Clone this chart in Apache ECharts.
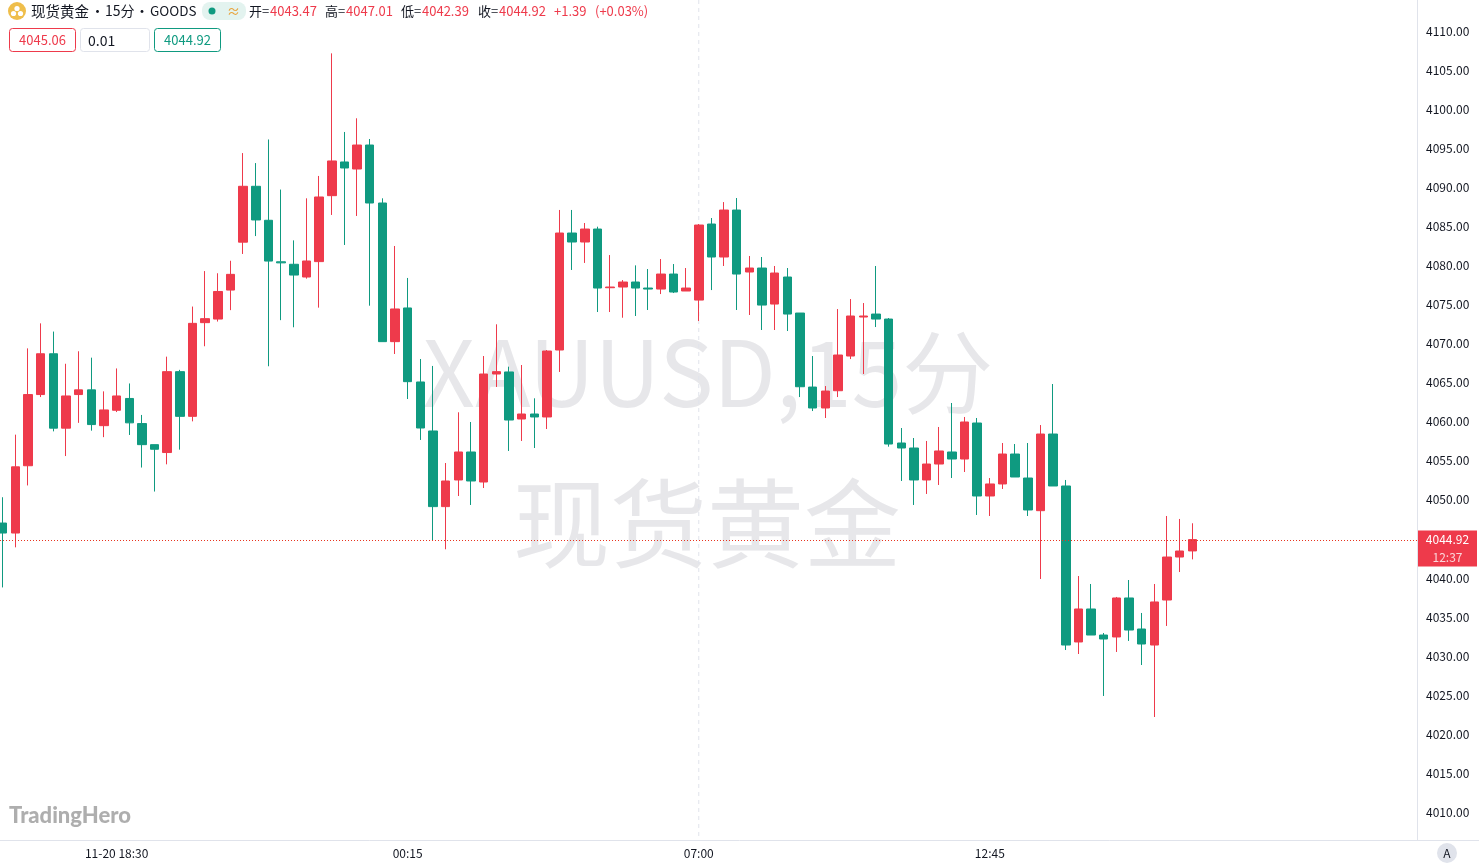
<!DOCTYPE html>
<html><head><meta charset="utf-8">
<style>html,body{margin:0;padding:0;background:#fff;overflow:hidden}#c{width:1479px;height:863px}</style>
<script src="https://cdn.jsdelivr.net/npm/echarts@6/dist/echarts.min.js"></script>
</head><body><div id="c"></div>
<script>
const categories = ['16:15','16:30','16:45','17:00','17:15','17:30','17:45','18:00','18:15','11-20 18:30','18:45','19:00','19:15','19:30','19:45','20:00','20:15','20:30','20:45','21:00','21:15','21:30','21:45','22:00','22:15','22:30','22:45','23:00','23:15','23:30','23:45','00:00','00:15','00:30','00:45','01:00','01:15','01:30','01:45','02:00','02:15','02:30','02:45','03:00','03:15','03:30','03:45','04:00','04:15','04:30','04:45','05:00','05:15','05:30','05:45','07:00','07:15','07:30','07:45','08:00','08:15','08:30','08:45','09:00','09:15','09:30','09:45','10:00','10:15','10:30','10:45','11:00','11:15','11:30','11:45','12:00','12:15','12:30','12:45','13:00','13:15','13:30','13:45','14:00','14:15','14:30','14:45','15:00','15:15','15:30','15:45','16:00','16:15 ','16:30 ','16:45 ','17:00 ','17:15 ','17:30 ','17:45 ','18:00 ','18:15 ','18:30 ','18:45 ','19:00 ','19:15 ','19:30 ','19:45 ','20:00 ','20:15 ','20:30 ','20:45 ','21:00 '];
const tickLabels = ['11-20 18:30','00:15','07:00','12:45'];
const opens = [4047.04,4045.76,4054.37,4063.48,4068.70,4059.18,4063.48,4064.08,4059.50,4061.47,4062.98,4059.77,4057.07,4056.06,4066.41,4060.69,4072.68,4073.14,4076.85,4082.98,4090.13,4085.78,4080.47,4080.15,4078.52,4080.49,4088.93,4093.24,4092.34,4095.41,4087.99,4070.25,4074.56,4065.09,4058.82,4049.14,4052.55,4056.13,4052.29,4066.11,4066.37,4060.35,4060.99,4060.61,4069.18,4084.15,4083.00,4084.66,4077.15,4077.24,4077.88,4077.11,4076.98,4078.90,4076.73,4075.57,4085.30,4081.08,4087.09,4079.16,4079.67,4075.06,4078.52,4073.91,4064.44,4061.76,4063.97,4068.41,4073.40,4073.78,4073.14,4057.28,4056.64,4052.55,4054.59,4056.13,4055.23,4059.84,4050.50,4052.04,4055.87,4052.80,4048.62,4058.43,4051.78,4031.82,4036.04,4032.71,4032.46,4037.45,4033.48,4031.43,4037.19,4042.69,4043.47];
const closes = [4045.76,4054.23,4063.48,4068.70,4059.18,4063.30,4064.08,4059.64,4061.51,4063.30,4059.86,4057.07,4056.48,4066.41,4060.69,4072.59,4073.19,4076.67,4078.86,4090.13,4085.82,4080.56,4080.33,4078.77,4080.57,4088.76,4093.37,4092.47,4095.41,4087.99,4070.25,4074.43,4065.13,4059.20,4049.14,4052.42,4056.13,4052.42,4066.11,4066.41,4060.22,4060.99,4060.61,4069.05,4084.15,4083.00,4084.66,4077.11,4077.24,4077.88,4077.11,4076.98,4078.90,4076.60,4077.11,4085.17,4081.08,4087.09,4078.90,4079.67,4074.93,4079.03,4073.78,4064.48,4061.76,4063.93,4068.54,4073.53,4073.53,4073.14,4057.15,4056.64,4052.55,4054.59,4056.26,4055.23,4059.97,4050.50,4052.04,4055.87,4052.93,4048.71,4058.43,4051.78,4031.43,4036.04,4032.71,4032.20,4037.45,4033.35,4031.56,4036.94,4042.69,4043.46,4044.92];
const lows = [4038.80,4043.93,4051.85,4063.16,4058.77,4055.61,4059.86,4058.86,4058.03,4061.24,4058.31,4054.14,4051.07,4054.55,4056.43,4060.05,4069.66,4072.82,4074.28,4081.47,4083.76,4067.10,4073.00,4072.09,4078.31,4074.60,4086.46,4082.62,4086.33,4074.85,4070.25,4068.67,4062.91,4057.67,4044.78,4043.68,4050.50,4049.35,4051.52,4064.45,4056.26,4057.54,4056.64,4059.07,4066.37,4079.42,4080.32,4074.04,4074.04,4073.31,4073.53,4074.30,4076.34,4076.47,4076.73,4072.89,4076.85,4079.93,4074.30,4073.66,4071.74,4071.74,4071.61,4063.16,4061.37,4060.48,4063.16,4068.02,4066.11,4072.12,4056.81,4052.42,4049.35,4050.76,4051.91,4052.80,4053.57,4048.07,4047.94,4051.40,4052.93,4047.94,4039.88,4051.78,4030.79,4030.28,4032.71,4024.91,4030.54,4031.95,4028.87,4022.22,4033.87,4040.77,4042.39];
const highs = [4050.34,4058.35,4069.39,4072.59,4071.54,4067.42,4069.02,4068.20,4063.89,4066.82,4064.90,4060.87,4057.07,4068.33,4066.64,4074.74,4079.28,4079.00,4080.60,4094.38,4093.10,4096.12,4089.71,4083.21,4088.59,4091.45,4107.14,4097.08,4098.83,4096.18,4088.59,4082.49,4078.40,4068.03,4067.14,4054.72,4061.21,4059.97,4068.41,4072.47,4067.05,4067.26,4063.00,4069.18,4087.10,4087.10,4085.43,4084.96,4081.33,4078.13,4080.01,4079.54,4080.82,4080.18,4079.67,4085.30,4086.07,4088.11,4088.63,4081.21,4081.08,4079.93,4079.67,4073.91,4068.41,4064.57,4074.42,4075.70,4075.19,4079.93,4073.27,4059.20,4057.92,4057.54,4059.33,4062.40,4060.61,4060.48,4052.80,4057.28,4057.15,4057.28,4059.58,4064.83,4052.55,4040.26,4039.24,4032.97,4037.58,4039.75,4035.53,4039.24,4047.94,4047.56,4047.01];
const lastClose = 4044.92;
const countdown = '12:37';
const crosshairLabel = '07:00';

const UP = '#EE3A4B', DOWN = '#0F9A80', GRID = '#E0E3EB', TEXT = '#131722';
const CJK = '"Noto Sans CJK SC","Noto Sans",sans-serif';
const chart = echarts.init(document.getElementById('c'), null, {renderer:'canvas'});
const candle = opens.map((o,i)=>[o,closes[i],lows[i],highs[i]]);

chart.setOption({
  animation:false,
  backgroundColor:'#fff',
  grid:{left:-3.6, top:-8.075, width:1417.4, height:859.65, containLabel:false, outerBoundsMode:'none'},
  xAxis:{
    type:'category', data:categories, boundaryGap:true, offset:-11.6,
    axisLine:{show:false}, axisTick:{show:false}, splitLine:{show:false},
    axisLabel:{interval:(i,v)=>tickLabels.includes(v), color:TEXT, fontSize:12, margin:7, fontFamily:CJK, hideOverlap:false}
  },
  yAxis:{
    type:'value', position:'right', offset:3.2, min:4005, max:4115, interval:5, scale:true,
    axisLine:{show:false}, axisTick:{show:false}, splitLine:{show:false},
    axisLabel:{margin:9, color:TEXT, fontSize:12, fontFamily:CJK,
      formatter:v=> (v<4010||v>4110)?'':v.toFixed(2)}
  },
  series:[{
    type:'candlestick', data:candle, barWidth:9, clip:true,
    itemStyle:{color:UP,color0:DOWN,borderColor:UP,borderColor0:DOWN,borderWidth:1}
  }]
});

const px = chart.convertToPixel({yAxisIndex:0}, lastClose);
const cx = chart.convertToPixel({xAxisIndex:0}, crosshairLabel);
const T=(x,y,text,o={})=>({type:'text',x,y,z:o.z??100,silent:true,style:{text,fill:o.fill||TEXT,font:`${o.weight||'normal'} ${o.size||13}px ${o.family||CJK}`,textAlign:o.align||'left',textVerticalAlign:'middle'}});
const R=(x,y,w,h,fill,stroke,r)=>({type:'rect',z:100,silent:true,shape:{x,y,width:w,height:h,r:r||0},style:{fill,stroke,lineWidth:1}});
const L=(x1,y1,x2,y2,stroke,dash,z)=>({type:'line',z:z??90,silent:true,shape:{x1,y1,x2,y2},style:{stroke,lineWidth:1,lineDash:dash||null}});
const red='#EE3A4B', teal='#0F9A80';
chart.setOption({graphic:{elements:[
  T(708,372,'XAUUSD,15分',{fill:'#E7E7EA',size:91,align:'center',z:-1}),
  T(707,523,'现货黄金',{fill:'#E7E7EA',size:97,align:'center',z:-1}),
  L(cx,0,cx,840,GRID,[4,4],0),
  L(0,Math.round(px)+0.5,1417,Math.round(px)+0.5,'#E8341F',[1,2],95),
  L(1417.5,0,1417.5,840,GRID),
  L(0,840.5,1479,840.5,GRID),
  {type:'circle',z:100,silent:true,shape:{cx:17,cy:11,r:9},style:{fill:'#EFBE4B'}},
  {type:'circle',z:101,silent:true,shape:{cx:17,cy:8.5,r:2.6},style:{fill:'#fff'}},
  {type:'circle',z:101,silent:true,shape:{cx:13.5,cy:13.5,r:2.6},style:{fill:'#fff'}},
  {type:'circle',z:101,silent:true,shape:{cx:20.5,cy:13.5,r:2.6},style:{fill:'#fff'}},
  T(31,11,'现货黄金',{size:14.5}),T(97.5,11,'·',{size:14,align:'center'}),
  T(105,11,'15分',{size:14}),T(142,11,'·',{size:14,align:'center'}),
  T(150,11,'GOODS',{size:13.5}),
  R(202,2,44,18,'#E3F3EF',null,8),
  {type:'circle',z:101,silent:true,shape:{cx:212,cy:11,r:3.5},style:{fill:teal}},
  T(227,11,'≈',{fill:'#E8A33D',size:13}),
  T(249,11,'开=',{size:13}),T(270,11,'4043.47',{fill:red,size:13}),
  T(325,11,'高=',{size:13}),T(346,11,'4047.01',{fill:red,size:13}),
  T(401,11,'低=',{size:13}),T(422,11,'4042.39',{fill:red,size:13}),
  T(478,11,'收=',{size:13}),T(499,11,'4044.92',{fill:red,size:13}),
  T(554,11,'+1.39',{fill:red,size:13}),T(595,11,'(+0.03%)',{fill:red,size:13}),
  R(9.5,28.5,66,23,'#fff',red,3),T(42.5,40,'4045.06',{fill:red,size:13,align:'center'}),
  R(80.5,28.5,69,23,'#fff',GRID,3),T(88,41,'0.01',{size:14}),
  R(154.5,28.5,66,23,'#fff',teal,3),T(187.5,40,'4044.92',{fill:teal,size:13,align:'center'}),
  T(9,816,'TradingHero',{fill:'#AEAEAE',size:22,weight:'900',family:'Lato,sans-serif'}),
  R(1418,px-9,59,36,red,null,0),
  T(1447.5,px-0.5,String(lastClose.toFixed(2)),{fill:'#fff',size:12,align:'center',z:102}),
  T(1447.5,px+17.5,countdown,{fill:'#FBD5D9',size:12,align:'center',z:102}),
  {type:'circle',z:100,silent:true,shape:{cx:1447,cy:853,r:10},style:{fill:'#E0E3EB'}},
  T(1447,853,'A',{size:12,align:'center',z:102})
]}});
</script></body></html>
